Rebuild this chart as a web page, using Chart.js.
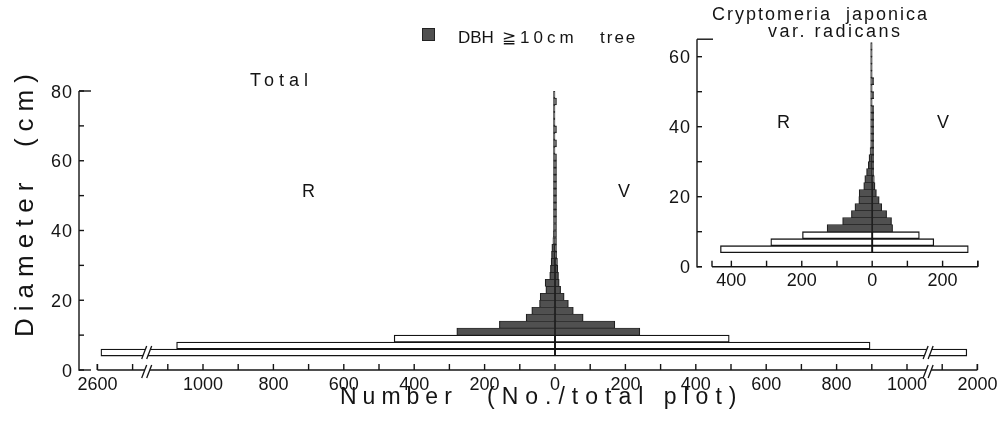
<!DOCTYPE html>
<html>
<head>
<meta charset="utf-8">
<script src="https://cdn.jsdelivr.net/npm/chart.js@4.4.0/dist/chart.umd.min.js"></script>
<style>
  html, body { margin: 0; padding: 0; background: #fff; }
  #wrap { position: relative; width: 1006px; height: 443px; overflow: hidden;
          font-family: "Liberation Sans", Arial, sans-serif; color: #141414; }
  canvas { position: absolute; left: 0; top: 0; }
  .t { position: absolute; white-space: pre; line-height: 1; }
</style>
</head>
<body>
<div id="wrap">
  <canvas id="total" width="1006" height="443"></canvas>
  <canvas id="sugi" width="1006" height="443"></canvas>

  <div class="t" style="left:11px;top:337px;font-size:26px;letter-spacing:7px;transform-origin:0 0;transform:rotate(-90deg)">Diameter  (cm)</div>
  <div class="t" style="left:340px;top:385px;font-size:23px;letter-spacing:6px">Number</div>
  <div class="t" style="left:487px;top:385px;font-size:23px;letter-spacing:7px">(No./total plot)</div>

  <div class="t" style="left:250px;top:71px;font-size:18px;letter-spacing:5px">Total</div>
  <div class="t" style="left:302px;top:182px;font-size:18px">R</div>
  <div class="t" style="left:618px;top:182px;font-size:18px">V</div>

  <div style="position:absolute;left:422px;top:28px;width:11px;height:11px;background:#505050;border:1px solid #222"></div>
  <div class="t" style="left:458px;top:29px;font-size:17px">DBH</div>
  <div class="t" style="left:502px;top:29px;font-size:17px;letter-spacing:4px">≧10cm</div>
  <div class="t" style="left:600px;top:29px;font-size:17px;letter-spacing:2px">tree</div>

  <div class="t" style="left:712px;top:5px;font-size:18px;letter-spacing:2px">Cryptomeria  japonica</div>
  <div class="t" style="left:768px;top:22px;font-size:18px;letter-spacing:2.5px">var. radicans</div>
  <div class="t" style="left:777px;top:113px;font-size:18px">R</div>
  <div class="t" style="left:937px;top:113px;font-size:18px">V</div>
</div>

<script>
// diameter classes (cm, 2 cm classes, mid value)
const totalClasses = [5, 7, 9, 11, 13, 15, 17, 19, 21, 23, 25, 27, 29, 31, 33, 35, 37, 39,
                      41, 43, 45, 47, 49, 51, 53, 55, 57, 59, 61, 63, 65, 67, 69, 71, 73, 75, 77, 79];
// number of trees, R side (left) and V side (right)
const totalR = [2590, 1075, 457, 279, 158, 82, 66, 44, 42, 26, 28, 15, 13, 11, 10, 9, 6, 5,
                4, 3, 3, 2, 2, 2, 1, 2, 1, 2, 1, 1, 1, 1, 1, 1, 1, 1, 2, 1];
const totalV = [1970, 895, 495, 241, 170, 80, 52, 38, 26, 16, 12, 10, 8, 7, 5, 4, 3, 2,
                2, 2, 1, 1, 1, 1, 1, 1, 1, 1, 1, 0, 1, 0, 1, 0, 0, 0, 1, 0];

// Cryptomeria japonica var. radicans
const sugiClasses = [5, 7, 9, 11, 13, 15, 17, 19, 21, 23, 25, 27, 29, 31, 33, 35, 37, 39,
                     41, 43, 45, 47, 49, 51, 53, 55, 57, 59, 61, 63];
const sugiR = [431, 288, 198, 128, 84, 59, 49, 38, 37, 24, 21, 16, 11, 9, 6, 4, 3, 2,
               3, 2, 3, 2, 1, 2, 1, 1, 1, 1, 1, 1];
const sugiV = [273, 175, 134, 58, 55, 41, 27, 20, 12, 8, 6, 3, 3, 2, 2, 1, 1, 1,
               1, 1, 1, 0, 1, 0, 1, 0, 0, 0, 0, 0];

// tick labels
const diamLabels = [0, 20, 40, 60, 80];
const diamTicks = [0, 10, 20, 30, 40, 50, 60, 70, 80];
const sugiDiamLabels = [0, 20, 40, 60];
const sugiDiamTicks = [0, 10, 20, 30, 40, 50, 60];
const totalLeftLabels = [2600, 1000, 800, 600, 400, 200];
const totalRightLabels = [0, 200, 400, 600, 800, 1000, 2000];
const totalLeftTicks = [2600, 2500, 1100, 1000, 900, 800, 700, 600, 500, 400, 300, 200, 100];
const totalRightTicks = [0, 100, 200, 300, 400, 500, 600, 700, 800, 900, 1000, 1900, 2000];
const sugiLeftLabels = [400, 200];
const sugiRightLabels = [0, 200];
const sugiLeftTicks = [400, 300, 200, 100];
const sugiRightTicks = [0, 100, 200, 300];

// broken x axis of the total plot
const L_BREAK = 1160, L_SHIFT = 1300;
const R_BREAK = 1060, R_SHIFT = 800;
const totalLeft = v => -(v > L_BREAK ? v - L_SHIFT : v);
const totalRight = v => (v > R_BREAK ? v - R_SHIFT : v);
const plainLeft = v => -v;
const plainRight = v => v;

const ink = '#141414';
const shade = '#505050';
const tickFont = '18px "Liberation Sans", Arial, sans-serif';

function line(ctx, x1, y1, x2, y2) {
  ctx.beginPath();
  ctx.moveTo(x1, y1);
  ctx.lineTo(x2, y2);
  ctx.stroke();
}

function breakMark(ctx, xb, yTop, yBot) {
  const s = 2.5, g = 2.5;
  ctx.save();
  ctx.fillStyle = '#fff';
  ctx.beginPath();
  ctx.moveTo(xb - g - s, yBot);
  ctx.lineTo(xb - g + s, yTop);
  ctx.lineTo(xb + g + s, yTop);
  ctx.lineTo(xb + g - s, yBot);
  ctx.closePath();
  ctx.fill();
  ctx.lineWidth = 1.3;
  line(ctx, xb - g - s, yBot, xb - g + s, yTop);
  line(ctx, xb + g - s, yBot, xb + g + s, yTop);
  ctx.restore();
}

// axes drawn in the old plotting style: inward ticks, detached y axis, breaks
const framePlugin = {
  id: 'frame',
  afterDatasetsDraw(chart, args, o) {
    const { ctx, scales: { x, y } } = chart;
    const y0 = y.getPixelForValue(0);
    const ax = x.left - o.gap;
    const yTop = y.getPixelForValue(o.yTop);
    ctx.save();
    ctx.strokeStyle = ink;
    ctx.fillStyle = ink;
    ctx.lineWidth = 1.4;

    // y axis
    line(ctx, ax, y0 + 0.7, ax, yTop);
    line(ctx, ax, yTop, ax + o.topFoot, yTop);
    line(ctx, ax, y0, ax + o.footLen, y0);
    o.yTicks.forEach(t => {
      const py = y.getPixelForValue(t);
      line(ctx, ax, py, ax + 5, py);
    });
    ctx.font = tickFont;
    ctx.textAlign = 'right';
    ctx.textBaseline = 'alphabetic';
    ctx.letterSpacing = '1px';
    o.yLabels.forEach(t => ctx.fillText(String(t), ax - 6, y.getPixelForValue(t) + 6.5));
    ctx.letterSpacing = '0px';

    // x axis
    line(ctx, x.left, y0, x.right, y0);
    const xt = [...o.leftTicks.map(v => o.toLeft(v)), ...o.rightTicks.map(v => o.toRight(v)), x.min, x.max];
    xt.forEach(p => {
      const px = x.getPixelForValue(p);
      line(ctx, px, y0, px, y0 - 6);
    });
    ctx.textAlign = 'center';
    o.leftLabels.forEach(v => ctx.fillText(String(v), x.getPixelForValue(o.toLeft(v)), y0 + 19.5));
    o.rightLabels.forEach(v => ctx.fillText(String(v), x.getPixelForValue(o.toRight(v)), y0 + 19.5));

    // axis breaks, on the axis and on every bar running past them
    (o.breaks || []).forEach(b => {
      const xb = x.getPixelForValue(b.at);
      breakMark(ctx, xb, y0 - 5, y0 + 8);
      b.rows.forEach(c => {
        breakMark(ctx, xb, y.getPixelForValue(c + 1) - 3, y.getPixelForValue(c - 1) + 3);
      });
    });
    ctx.restore();
  }
};

function pyramid(id, classes, left, right, frame, xRange, yMax, area) {
  const bars = (vals, toPos) => classes.map((c, i) => ({ y: c, x: vals[i] > 0 ? toPos(vals[i]) : null }));
  const big = i => classes[i] >= 10;
  const look = {
    stack: 'side',
    categoryPercentage: 1,
    barPercentage: 1,
    backgroundColor: ctx => (big(ctx.dataIndex) ? shade : '#fff'),
    borderColor: ctx => (big(ctx.dataIndex) ? '#202020' : ink),
    borderWidth: ctx => (big(ctx.dataIndex)
      ? { top: 0.7, bottom: 0.7, left: 1.2, right: 1.2 }
      : 1.3),
    borderSkipped: false,
    minBarLength: 1.5
  };
  return new Chart(document.getElementById(id), {
    type: 'bar',
    data: {
      datasets: [
        { label: 'R', data: bars(left, frame.toLeft), ...look },
        { label: 'V', data: bars(right, frame.toRight), ...look }
      ]
    },
    options: {
      indexAxis: 'y',
      responsive: false,
      animation: false,
      layout: { padding: area },
      scales: {
        x: { type: 'linear', min: xRange[0], max: xRange[1], stacked: true, display: false },
        y: { type: 'linear', min: 0, max: yMax, stacked: true, offset: false, display: false,
             grid: { offset: false } }
      },
      plugins: {
        legend: { display: false },
        tooltip: { enabled: false },
        frame: frame
      }
    },
    plugins: [framePlugin]
  });
}

pyramid('total', totalClasses, totalR, totalV, {
  gap: 18.4, yTop: 80, topFoot: 12, footLen: 12,
  yTicks: diamTicks, yLabels: diamLabels,
  toLeft: totalLeft, toRight: totalRight,
  leftTicks: totalLeftTicks, rightTicks: totalRightTicks,
  leftLabels: totalLeftLabels, rightLabels: totalRightLabels,
  breaks: [
    { at: -L_BREAK, rows: totalClasses.filter((c, i) => totalR[i] > L_BREAK) },
    { at: R_BREAK, rows: totalClasses.filter((c, i) => totalV[i] > R_BREAK) }
  ]
}, [-1300, 1200], 80, { left: 97.4, right: 28.6, top: 91, bottom: 73 });

pyramid('sugi', sugiClasses, sugiR, sugiV, {
  gap: 15, yTop: 65, topFoot: 16, footLen: 5,
  yTicks: sugiDiamTicks, yLabels: sugiDiamLabels,
  toLeft: plainLeft, toRight: plainRight,
  leftTicks: sugiLeftTicks, rightTicks: sugiRightTicks,
  leftLabels: sugiLeftLabels, rightLabels: sugiRightLabels
}, [-455, 300], 65, { left: 712, right: 28.2, top: 39.2, bottom: 176.3 });
</script>
</body>
</html>
